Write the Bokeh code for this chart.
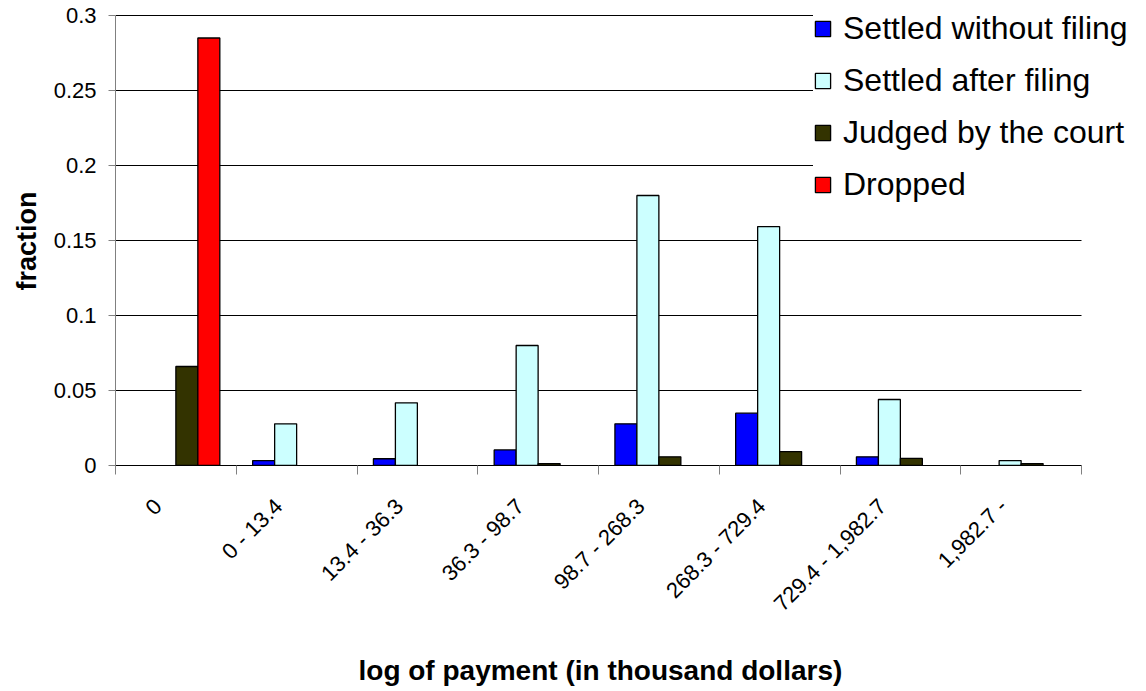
from bokeh.plotting import figure
from bokeh.models import (ColumnDataSource, Range1d, FixedTicker, Legend, LegendItem, Title)
from bokeh.embed import file_html
from bokeh.resources import INLINE
import math

# ---------------- data ----------------
categories = ["0", "0 - 13.4", "13.4 - 36.3", "36.3 - 98.7", "98.7 - 268.3",
              "268.3 - 729.4", "729.4 - 1,982.7", "1,982.7 -"]
settled_without_filing = [0, 0.0033, 0.0045, 0.0104, 0.0278, 0.0349, 0.0058, 0]
settled_after_filing = [0, 0.0278, 0.0418, 0.0800, 0.1800, 0.1593, 0.0440, 0.0033]
judged_by_court = [0.0660, 0, 0, 0.0013, 0.0058, 0.0093, 0.0047, 0.0013]
dropped = [0.2850, 0, 0, 0, 0, 0, 0, 0]
series_names = ["Settled without filing", "Settled after filing", "Judged by the court", "Dropped"]
series_values = [settled_without_filing, settled_after_filing, judged_by_court, dropped]
series_colors = ["#0000FF", "#CCFFFF", "#333300", "#FF0000"]
y_tick_values = [0, 0.05, 0.1, 0.15, 0.2, 0.25, 0.3]
y_tick_labels = ["0", "0.05", "0.1", "0.15", "0.2", "0.25", "0.3"]
x_title = "log of payment (in thousand dollars)"
y_title = "fraction"

FONT = "Liberation Sans"
n = len(categories)
bar_w = 0.182
nser = len(series_values)

# frame spans to the right edge / top so the legend is not clipped;
# axes and grid lines are bounded to the real data area
FRAME_W, FRAME_H = 1024, 465
DATA_W, DATA_H = 966, 450
x_end = n * FRAME_W / DATA_W
y_end = y_tick_values[-1] * FRAME_H / DATA_H

p = figure(frame_width=FRAME_W, frame_height=FRAME_H,
           min_border_left=106, min_border_right=0, min_border_top=0, min_border_bottom=10,
           x_range=Range1d(0, x_end), y_range=Range1d(0, y_end),
           output_backend="svg", toolbar_location=None)
p.outline_line_color = None
p.background_fill_color = "white"
p.border_fill_color = "white"

# horizontal grid lines, limited to the category area
grid_src = ColumnDataSource(dict(x0=[0] * len(y_tick_values), x1=[n] * len(y_tick_values),
                                 y=y_tick_values))
p.segment(x0="x0", x1="x1", y0="y", y1="y", source=grid_src,
          line_color="black", line_width=1, level="underlay")

renderers = []
for k, (name, vals, col) in enumerate(zip(series_names, series_values, series_colors)):
    off = (k - (nser - 1) / 2) * bar_w
    xs = [i + 0.5 + off for i, v in enumerate(vals) if v > 0]
    tops = [v for v in vals if v > 0]
    src = ColumnDataSource(dict(x=xs, top=tops))
    r = p.vbar(x="x", top="top", bottom=0, width=bar_w, source=src,
               fill_color=col, line_color="black", line_width=1.3)
    renderers.append((name, r))

# x axis: labels near category centres, ticks at category boundaries
label_shift = 0.15
label_pos = [i + 0.5 - label_shift for i in range(n)]
xt = FixedTicker(ticks=label_pos, minor_ticks=list(range(n + 1)))
xa = p.xaxis[0]
xa.ticker = xt
xa.bounds = (0, n)
xa.major_label_overrides = {pos: lab for pos, lab in zip(label_pos, categories)}
xa.major_label_orientation = math.pi / 4
xa.major_tick_out = 0
xa.major_tick_in = 0
xa.minor_tick_out = 9
xa.minor_tick_in = 0
xa.minor_tick_line_color = "#808080"
xa.axis_line_color = "black"
xa.major_label_standoff = 28
xa.major_label_text_font = FONT
xa.major_label_text_font_size = "22px"
xa.major_label_text_color = "black"

ya = p.yaxis[0]
ya.ticker = FixedTicker(ticks=y_tick_values)
ya.bounds = (y_tick_values[0], y_tick_values[-1])
ya.major_label_overrides = {v: lab for v, lab in zip(y_tick_values, y_tick_labels)}
ya.major_tick_out = 7
ya.major_tick_in = 0
ya.minor_tick_out = 0
ya.minor_tick_in = 0
ya.major_tick_line_color = "#808080"
ya.axis_line_color = "#808080"
ya.major_label_standoff = 12
ya.major_label_text_font = FONT
ya.major_label_text_font_size = "22px"
ya.major_label_text_color = "black"

# axis titles placed over the data area (not the wider frame)
xt_title = Title(text=x_title, align="left", offset=243,
                 text_font=FONT, text_font_size="28px", text_font_style="bold",
                 text_color="black", standoff=50)
p.add_layout(xt_title, "below")
yt_title = Title(text=y_title, align="left", offset=175,
                 text_font=FONT, text_font_size="27px", text_font_style="bold",
                 text_color="black", standoff=18)
p.add_layout(yt_title, "left")

p.xgrid.visible = False
p.ygrid.visible = False

legend = Legend(items=[LegendItem(label=nm, renderers=[r]) for nm, r in renderers],
                location=(698, 262), orientation="vertical")
legend.label_text_font = FONT
legend.label_text_font_size = "32px"
legend.label_text_color = "black"
legend.glyph_width = 19
legend.glyph_height = 19
legend.label_standoff = 11
legend.spacing = 15
legend.padding = 10
legend.margin = 0
legend.border_line_color = None
legend.background_fill_color = "white"
legend.background_fill_alpha = 1.0
p.add_layout(legend)

open("out.html", "w").write(file_html(p, INLINE))
